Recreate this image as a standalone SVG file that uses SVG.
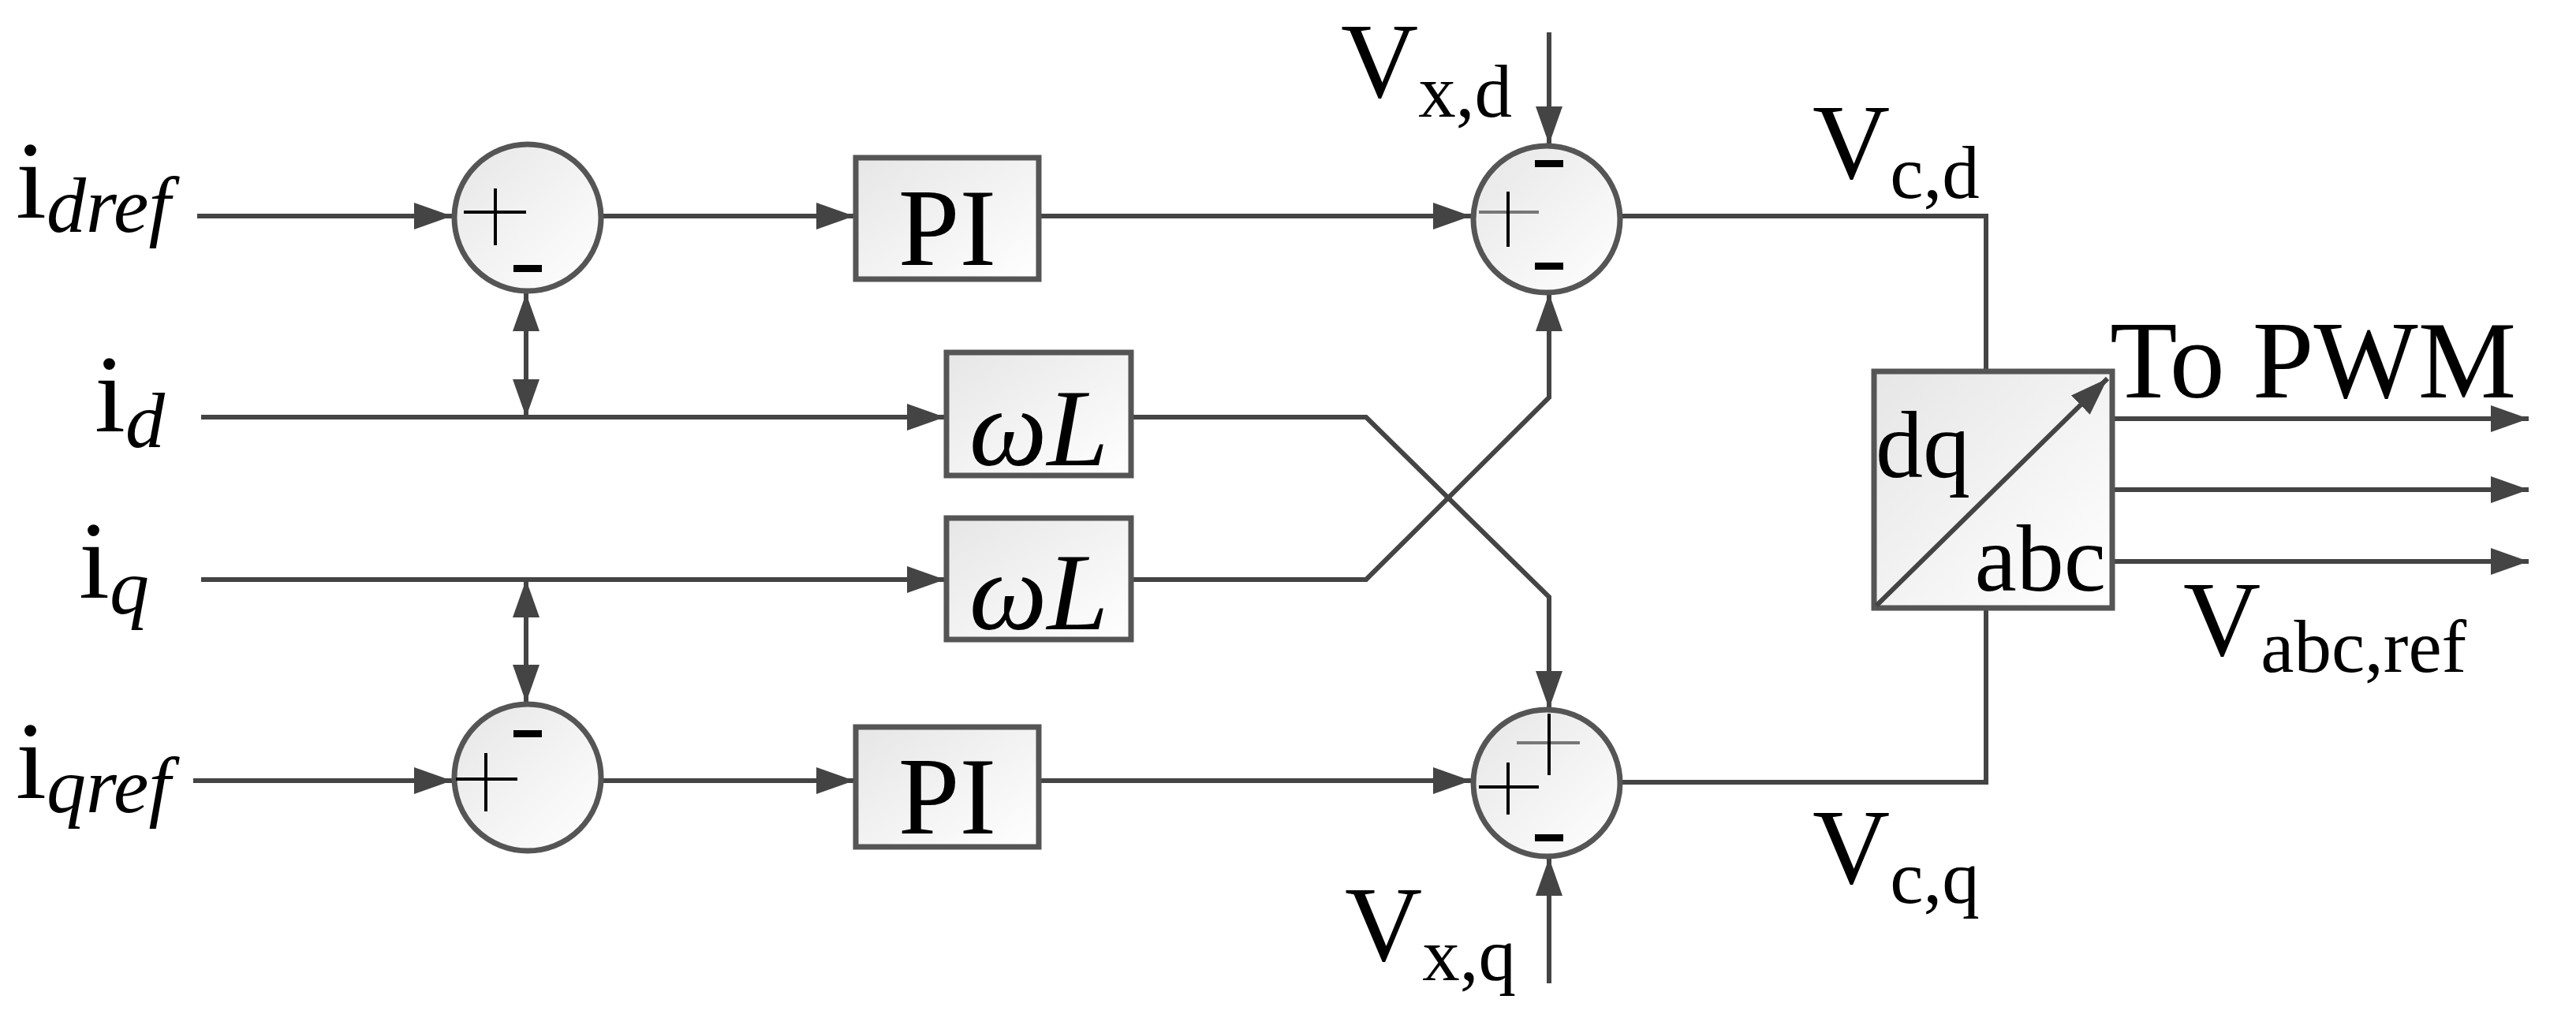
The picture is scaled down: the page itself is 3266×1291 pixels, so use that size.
<svg xmlns="http://www.w3.org/2000/svg" width="3266" height="1291" viewBox="0 0 3266 1291">
<defs>
<linearGradient id="g" x1="0" y1="0" x2="1" y2="1"><stop offset="0" stop-color="#e6e6e6"/><stop offset="1" stop-color="#ffffff"/></linearGradient>
<marker id="a" markerUnits="userSpaceOnUse" markerWidth="50" markerHeight="40" refX="48" refY="17" orient="auto-start-reverse"><path d="M0,0 L48,17 L0,34 Z" fill="#444"/></marker>
</defs>
<style>
.w{fill:none;stroke:#444;stroke-width:6}
.b{fill:url(#g);stroke:#555;stroke-width:7}
.t{font-family:"Liberation Serif",serif;fill:#000}
.p{stroke:#000;stroke-width:4;fill:none}
.pg{stroke:#777;stroke-width:4;fill:none}
.m{fill:#000}
</style>
<g id="connectors">
<line class="w" x1="250" y1="274" x2="573" y2="274" marker-end="url(#a)"/>
<line class="w" x1="762" y1="274" x2="1083" y2="274" marker-end="url(#a)"/>
<line class="w" x1="1317" y1="274" x2="1865" y2="274" marker-end="url(#a)"/>
<line class="w" x1="255" y1="529" x2="1198" y2="529" marker-end="url(#a)"/>
<line class="w" x1="255" y1="735" x2="1198" y2="735" marker-end="url(#a)"/>
<line class="w" x1="245" y1="990" x2="573" y2="990" marker-end="url(#a)"/>
<line class="w" x1="762" y1="990" x2="1083" y2="990" marker-end="url(#a)"/>
<line class="w" x1="1317" y1="990" x2="1865" y2="990" marker-end="url(#a)"/>
<line class="w" x1="667" y1="372" x2="667" y2="529" marker-start="url(#a)" marker-end="url(#a)"/>
<line class="w" x1="667" y1="735" x2="667" y2="891" marker-start="url(#a)" marker-end="url(#a)"/>
<polyline class="w" points="1434,529 1732,529 1964,757 1964,899" marker-end="url(#a)"/>
<polyline class="w" points="1434,735 1732,735 1964,504 1964,372" marker-end="url(#a)"/>
<line class="w" x1="1964" y1="41" x2="1964" y2="183" marker-end="url(#a)"/>
<line class="w" x1="1964" y1="1247" x2="1964" y2="1088" marker-end="url(#a)"/>
<polyline class="w" points="2055,274 2518,274 2518,471"/>
<polyline class="w" points="2518,771 2518,992 2055,992"/>
<line class="w" x1="2678" y1="531" x2="3206" y2="531" marker-end="url(#a)"/>
<line class="w" x1="2678" y1="621" x2="3206" y2="621" marker-end="url(#a)"/>
<line class="w" x1="2678" y1="712" x2="3206" y2="712" marker-end="url(#a)"/>
</g>
<g id="sum1">
<circle class="b" cx="669" cy="276" r="93"/>
<path class="p" d="M588,269 H667 M628,239 V311"/>
<rect class="m" x="651" y="336" width="36" height="9"/>
</g>
<g id="sum3">
<circle class="b" cx="669" cy="986" r="93"/>
<path class="p" d="M578,988 H656 M616,955 V1029"/>
<rect class="m" x="651" y="926" width="36" height="9"/>
</g>
<g id="sum2">
<circle class="b" cx="1961" cy="278" r="93"/>
<path class="pg" d="M1875,269 H1951"/>
<path class="p" d="M1912,243 V313"/>
<rect class="m" x="1946" y="203" width="36" height="9"/>
<rect class="m" x="1946" y="333" width="36" height="9"/>
</g>
<g id="sum4">
<circle class="b" cx="1961" cy="993" r="93"/>
<path class="pg" d="M1923,942 H2003"/>
<path class="p" d="M1964,905 V983 M1875,998 H1951 M1912,967 V1033"/>
<rect class="m" x="1946" y="1058" width="36" height="9"/>
</g>
<g id="pi1"><rect class="b" x="1085" y="200" width="232" height="154"/><text class="t" x="1201" y="336" font-size="140" text-anchor="middle">PI</text></g>
<g id="pi2"><rect class="b" x="1085" y="922" width="232" height="152"/><text class="t" x="1201" y="1057" font-size="140" text-anchor="middle">PI</text></g>
<g id="wl1"><rect class="b" x="1200" y="447" width="234" height="156"/><text class="t" x="1317" y="590" font-size="140" font-style="italic" text-anchor="middle">ωL</text></g>
<g id="wl2"><rect class="b" x="1200" y="657" width="234" height="154"/><text class="t" x="1317" y="798" font-size="140" font-style="italic" text-anchor="middle">ωL</text></g>
<g id="dqabc">
<rect class="b" x="2376" y="471" width="302" height="300"/>
<line class="w" x1="2379" y1="768" x2="2672" y2="480" marker-end="url(#a)"/>
<text class="t" x="2378" y="605" font-size="120">dq</text>
<text class="t" x="2670" y="749" font-size="120" text-anchor="end">abc</text>
</g>
<g id="labels">
<text class="t" x="20" y="276" font-size="140">i<tspan font-size="100" font-style="italic" dy="18">dref</tspan></text>
<text class="t" x="120" y="547" font-size="140">i<tspan font-size="100" font-style="italic" dy="20">d</tspan></text>
<text class="t" x="100" y="758" font-size="140">i<tspan font-size="100" font-style="italic" dy="20">q</tspan></text>
<text class="t" x="20" y="1012" font-size="140">i<tspan font-size="100" font-style="italic" dy="18">qref</tspan></text>
<text class="t" x="1700" y="123" font-size="136">V<tspan font-size="95" dy="25">x,d</tspan></text>
<text class="t" x="1705" y="1218" font-size="136">V<tspan font-size="95" dy="25">x,q</tspan></text>
<text class="t" x="2298" y="226" font-size="136">V<tspan font-size="95" dy="25">c,d</tspan></text>
<text class="t" x="2298" y="1120" font-size="136">V<tspan font-size="95" dy="25">c,q</tspan></text>
<text class="t" x="2675" y="504" font-size="140">To PWM</text>
<text class="t" x="2768" y="831" font-size="136">V<tspan font-size="95" dy="21">abc,ref</tspan></text>
</g>
</svg>
